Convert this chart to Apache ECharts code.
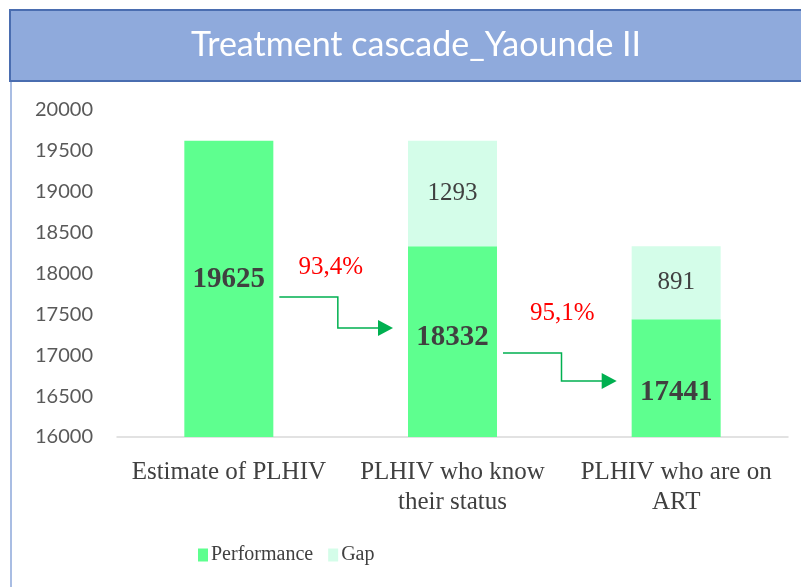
<!DOCTYPE html>
<html>
<head>
<meta charset="utf-8">
<title>Treatment cascade_Yaounde II</title>
<script src="https://cdn.jsdelivr.net/npm/echarts@6/dist/echarts.min.js"></script>
<style>
  html, body { margin: 0; padding: 0; background: #fff; }
  #chart { width: 801px; height: 587px; }
</style>
</head>
<body>
<div id="chart"></div>
<script>
// data
var categories = ['Estimate of PLHIV', 'PLHIV who know\ntheir status', 'PLHIV who are on\nART'];
var performance = [19625, 18332, 17441];
var gap = [null, 1293, 891];
var steps = ['93,4%', '95,1%'];
var yMin = 16000, yMax = 20000, yStep = 500;

var GREEN = '#5EFF8F';
var LIGHT = '#D4FDE9';
var TEXT = '#404040';
var SERIF = '"Liberation Serif", "DejaVu Serif", serif';

// label nudges to mimic the original placement (px)
var perfLabelShift = [-9, -4, 14];

var chart = echarts.init(document.getElementById('chart'));

chart.setOption({
  backgroundColor: '#fff',
  animation: false,
  grid: { left: 117, right: 13, top: 110, bottom: 150, containLabel: false },
  legend: {
    data: ['Performance', 'Gap'],
    left: 193, top: 540,
    icon: 'rect', itemWidth: 10, itemHeight: 13, itemGap: 15,
    textStyle: { fontFamily: SERIF, fontSize: 20, color: TEXT, padding: [0, 0, 0, -2] }
  },
  xAxis: {
    type: 'category',
    data: categories,
    axisLine: { lineStyle: { color: '#D9D9D9', width: 1.5 } },
    axisTick: { show: false },
    axisLabel: { fontFamily: SERIF, fontSize: 25, color: TEXT, margin: 20, lineHeight: 30, interval: 0 }
  },
  yAxis: {
    type: 'value',
    min: yMin, max: yMax, interval: yStep,
    splitLine: { show: false },
    axisLine: { show: false },
    axisTick: { show: false },
    axisLabel: { fontFamily: 'Lato, "Open Sans", sans-serif', fontSize: 20, color: '#595959', margin: 24,
      formatter: function (v) { return String(v); } }
  },
  series: [
    {
      name: 'Performance', type: 'bar', stack: 'c', barWidth: 89,
      itemStyle: { color: GREEN },
      data: performance.map(function (v, i) {
        return { value: v, label: { offset: [0, perfLabelShift[i]] } };
      }),
      label: { show: true, position: 'inside', fontFamily: SERIF, fontSize: 29, fontWeight: 'bold', color: TEXT }
    },
    {
      name: 'Gap', type: 'bar', stack: 'c', barWidth: 89,
      itemStyle: { color: LIGHT },
      data: gap,
      label: { show: true, position: 'inside', fontFamily: SERIF, fontSize: 25, color: TEXT,
        formatter: function (p) { return p.value == null ? '' : p.value; } }
    }
  ]
});

// connectors between bars, placed via the chart's own scales
function px(cat, val) { return chart.convertToPixel({ seriesIndex: 0 }, [cat, val]); }
var arrowGreen = '#00B050';
var arrowDefs = [
  { from: 0, yHi: 17712, yLo: 17333, txtY: 18070, txtDx: -10 },
  { from: 1, yHi: 17027, yLo: 16685, txtY: 17517, txtDx: -2 }
];
var extras = [];
arrowDefs.forEach(function (a, i) {
  var c0 = px(a.from, a.yHi), c1 = px(a.from + 1, a.yLo);
  var x0 = c0[0] + 44.5 + 6, x1 = c1[0] - 44.5 - 15;
  var elbow = c0[0] + 109;
  extras.push({
    type: 'polyline', z: 10,
    shape: { points: [[x0, c0[1]], [elbow, c0[1]], [elbow, c1[1]], [x1 - 12, c1[1]]] },
    style: { stroke: arrowGreen, lineWidth: 1.5, fill: null }
  });
  extras.push({
    type: 'polygon', z: 10,
    shape: { points: [[x1 - 15, c1[1] - 8], [x1, c1[1]], [x1 - 15, c1[1] + 8]] },
    style: { fill: arrowGreen }
  });
  var t = px(a.from, a.txtY);
  extras.push({
    type: 'text', z: 10,
    x: (c0[0] + c1[0]) / 2 + a.txtDx, y: t[1],
    style: { text: steps[i], fill: '#FF0000', font: '25px ' + SERIF, align: 'center', verticalAlign: 'middle' }
  });
});

// header band and frame
extras.push({
  type: 'rect', z: 0,
  shape: { x: 10, y: 10, width: 800, height: 71 },
  style: { fill: '#8FAADC', stroke: '#4A6DB0', lineWidth: 2 }
});
extras.push({
  type: 'text', z: 1,
  x: 416, y: 45,
  style: { text: 'Treatment cascade_Yaounde II', fill: '#FFFFFF', font: '34px Lato, "Open Sans", sans-serif', align: 'center', verticalAlign: 'middle' }
});
extras.push({
  type: 'line', z: 0,
  shape: { x1: 11, y1: 82, x2: 11, y2: 587 },
  style: { stroke: '#A9BDE3', lineWidth: 2 }
});

chart.setOption({ graphic: extras });
</script>
</body>
</html>
